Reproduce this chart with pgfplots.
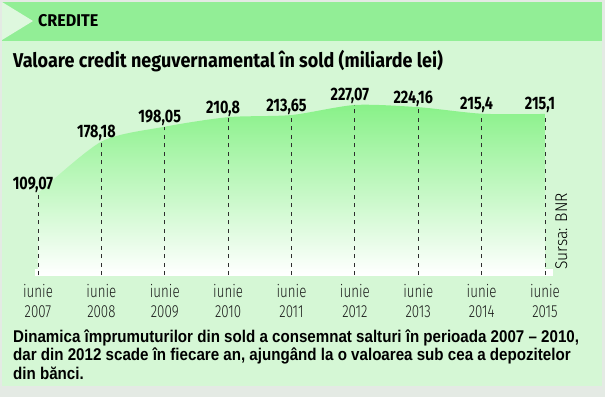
\documentclass[border=0pt]{standalone}
\usepackage{pgfplots}
\pgfplotsset{compat=1.18}
\usepackage{fontspec}
\setmainfont{Fira Sans}
\newfontfamily\titlefont{Fira Sans}[FakeStretch=0.9]
\newfontfamily\labelfont{Fira Sans}[FakeStretch=0.8]
\newfontfamily\headfont{Fira Sans}[FakeStretch=0.95]
\newfontfamily\lightfont{Fira Sans Light}[FakeStretch=0.76]
\newfontfamily\sursafont{Fira Sans Light}[FakeStretch=0.92]
\newfontfamily\condfont{Liberation Sans}[FakeStretch=0.89]
\definecolor{panel}{RGB}{213,247,213}
\definecolor{header}{RGB}{146,238,150}
\definecolor{notch}{RGB}{222,248,222}
\definecolor{outer}{RGB}{228,234,228}
\definecolor{fillgreen}{RGB}{136,241,136}
\definecolor{dashc}{RGB}{45,45,45}
\pgfplotstableread{
x y label
2007 109.07 109,07
2008 178.18 178,18
2009 198.05 198,05
2010 210.8 210,8
2011 213.65 213,65
2012 227.07 227,07
2013 224.16 224,16
2014 215.4 215,4
2015 215.1 215,1
}\credit
\begin{document}
\begin{tikzpicture}
\begin{scope}[x=1pt,y=1pt]
\path[use as bounding box] (0,0) rectangle (605,397);
\fill[outer] (0,0) rectangle (605,397);
\fill[panel] (2,11) rectangle (602,395);
\fill[header] (2,356) rectangle (602,395);
\fill[notch] (2,395) -- (33,376) -- (2,357) -- cycle;
\node[anchor=base west, inner sep=0, font=\headfont\bfseries\fontsize{17}{17}\selectfont] at (38,370) {CREDITE};
\node[anchor=base west, inner sep=0, font=\titlefont\bfseries\fontsize{20}{20}\selectfont] at (13,329) {Valoare credit neguvernamental în sold (miliarde lei)};
\fill[white] (35,121) rectangle (553,128);
\node[anchor=base west, inner sep=0, align=left, font=\condfont\bfseries\fontsize{17}{18.5}\selectfont] at (13,18) {Dinamica împrumuturilor din sold a consemnat salturi în perioada 2007 – 2010,\\dar din 2012 scade în fiecare an, ajungând la o valoarea sub cea a depozitelor\\din bănci.};
\node[rotate=90, anchor=base west, inner sep=0, font=\sursafont\fontsize{17}{17}\selectfont] at (567,127) {Sursa: BNR};
\end{scope}
\begin{axis}[
  at={(38pt,122pt)}, anchor=south west,
  scale only axis, width=507pt, height=179.7pt,
  xmin=2007, xmax=2015, ymin=0, ymax=240,
  axis line style={draw=none}, clip=false,
  ytick=\empty, xtick={2007,2008,...,2015},
  major tick length=0pt,
  xticklabels={{iunie\\2007},{iunie\\2008},{iunie\\2009},{iunie\\2010},{iunie\\2011},{iunie\\2012},{iunie\\2013},{iunie\\2014},{iunie\\2015}},
  xticklabel style={font=\lightfont\fontsize{17.5}{19.5}\selectfont, text=black!90, align=center, anchor=base, yshift=-42pt, inner sep=0pt},
]
\addplot[draw=none, mark=none, nodes near coords, point meta=explicit symbolic,
  every node near coord/.style={anchor=base, xshift=-5pt, yshift=4pt, inner sep=0pt, text=black,
  font=\labelfont\bfseries\fontsize{18}{18}\selectfont}]
  table[x=x, y=y, meta=label] {\credit};
\addplot[draw=none, top color=fillgreen, bottom color=white, smooth, tension=0.45]
  table[x=x, y=y] {\credit} \closedcycle;
\addplot[ycomb, mark=none, draw=dashc, line width=0.9pt, dash pattern=on 4pt off 4.5pt]
  table[x=x, y=y] {\credit};
\end{axis}
\end{tikzpicture}
\end{document}
